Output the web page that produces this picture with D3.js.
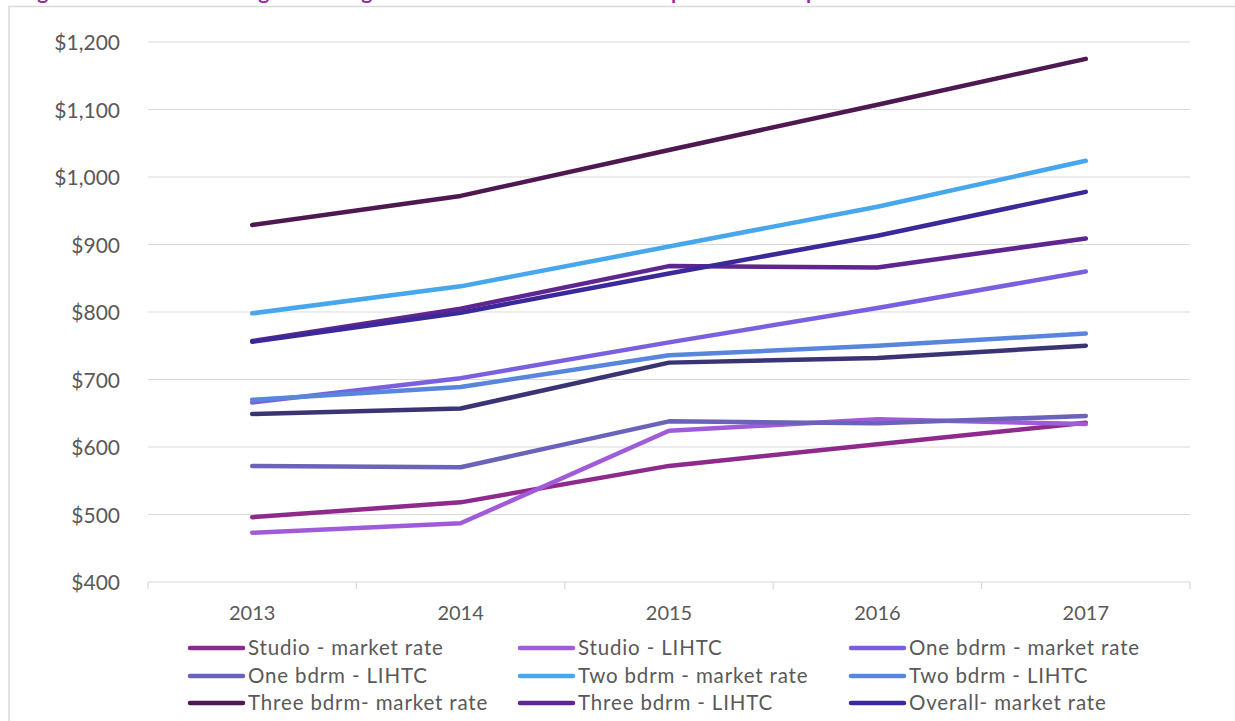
<!DOCTYPE html>
<html>
<head>
<meta charset="utf-8">
<script src="https://cdn.jsdelivr.net/npm/d3@7"></script>
<style>
  html, body { margin: 0; padding: 0; background: #fff; overflow: hidden; }
  svg { display: block; font-family: Lato, "Open Sans", sans-serif; }
</style>
</head>
<body>
<div id="chart"></div>
<script>
// chart data
const years = ["2013", "2014", "2015", "2016", "2017"];
const seriesNames = [
  "Studio - market rate", "Studio - LIHTC", "One bdrm - market rate",
  "One bdrm - LIHTC", "Two bdrm - market rate", "Two bdrm - LIHTC",
  "Three bdrm- market rate", "Three bdrm - LIHTC", "Overall- market rate",
  "Overall - LIHTC"
];
const studioMarket = [496, 518, 572, 604, 636];
const studioLihtc = [473, 487, 624, 641, 634];
const oneMarket = [666, 702, 755, 806, 860];
const oneLihtc = [572, 570, 638, 635, 646];
const twoMarket = [798, 838, 897, 956, 1024];
const twoLihtc = [670, 689, 736, 750, 768];
const threeMarket = [929, 972, 1040, 1107, 1175];
const threeLihtc = [757, 805, 868, 866, 909];
const overallMarket = [756, 799, 857, 913, 978];
const overallLihtc = [649, 657, 725, 732, 750];
const yTicks = [400, 500, 600, 700, 800, 900, 1000, 1100, 1200];

const colors = [
  "#8e2a8c", "#a05cd8", "#7a5fdf", "#6a63b9", "#47a7ec",
  "#5886dc", "#4e1850", "#5f2692", "#3b2899", "#3a3474"
];

function drawChart() {
  const series = [studioMarket, studioLihtc, oneMarket, oneLihtc, twoMarket,
    twoLihtc, threeMarket, threeLihtc, overallMarket, overallLihtc]
    .map((vals, i) => ({ name: seriesNames[i], color: colors[i], values: vals }));

  // dimensions
  const w = 1235;
  const h = 721;
  const left = 148, right = 1190, top = 42, bottom = 582;

  const svg = d3.select("#chart")
    .append("svg")
    .attr("width", w)
    .attr("height", h);

  // chart border (runs off the picture on the right and bottom)
  svg.append("rect")
    .attr("x", 9).attr("y", 6.5)
    .attr("width", 1400).attr("height", 900)
    .attr("fill", "none")
    .attr("stroke", "#d9d9d9")
    .attr("stroke-width", 1.5);

  // title, mostly above the top edge
  svg.append("text")
    .attr("x", 20).attr("y", -1)
    .attr("fill", "#9b2b9c")
    .attr("font-weight", "bold")
    .attr("font-size", 21)
    .text("Figure 31: Five-Year Change in Average Rent: Market Rate vs. LIHTC Apartment Complexes");

  // scales
  const xScale = d3.scaleBand().domain(years).range([left, right]);
  const yScale = d3.scaleLinear().domain([400, 1200]).range([bottom, top]);

  // gridlines
  svg.append("g")
    .selectAll("line")
    .data(yTicks)
    .join("line")
    .attr("x1", left).attr("x2", right)
    .attr("y1", d => yScale(d)).attr("y2", d => yScale(d))
    .attr("stroke", "#d9d9d9")
    .attr("stroke-width", 1.2);

  // Y axis labels
  const yAxis = d3.axisLeft(yScale)
    .tickValues(yTicks)
    .tickSize(0)
    .tickPadding(28)
    .tickFormat(d => "$" + d3.format(",")(d));
  svg.append("g")
    .attr("transform", `translate(${left}, 0)`)
    .call(yAxis)
    .call(g => g.select(".domain").remove())
    .call(g => g.selectAll("text")
      .attr("dy", "0.36em")
      .attr("fill", "#595959")
      .attr("font-size", 21)
      .attr("font-family", "Lato, sans-serif"));

  // X axis: ticks at category boundaries
  const bounds = years.map(y => xScale(y)).concat([right]);
  svg.append("g")
    .selectAll("line")
    .data(bounds)
    .join("line")
    .attr("x1", d => d).attr("x2", d => d)
    .attr("y1", bottom).attr("y2", bottom + 7)
    .attr("stroke", "#d9d9d9")
    .attr("stroke-width", 1.2);
  svg.append("g")
    .selectAll("text")
    .data(years)
    .join("text")
    .attr("x", d => xScale(d) + xScale.bandwidth() / 2)
    .attr("y", 620)
    .attr("text-anchor", "middle")
    .attr("fill", "#595959")
    .attr("font-size", 20)
    .text(d => d);

  // lines
  const line = d3.line()
    .x((d, i) => xScale(years[i]) + xScale.bandwidth() / 2)
    .y(d => yScale(d));
  svg.append("g")
    .selectAll("path")
    .data(series)
    .join("path")
    .attr("d", d => line(d.values))
    .attr("fill", "none")
    .attr("stroke", d => d.color)
    .attr("stroke-width", 4.5)
    .attr("stroke-linejoin", "round")
    .attr("stroke-linecap", "round");

  // legend, 3 columns (fourth row falls below the picture)
  const colX = [190, 520, 851];
  const rowY = [648, 676, 703, 731];
  const legend = svg.append("g")
    .selectAll("g")
    .data(series)
    .join("g")
    .attr("transform", (d, i) => `translate(${colX[i % 3]}, ${rowY[Math.floor(i / 3)]})`);
  legend.append("line")
    .attr("x1", 0).attr("x2", 53)
    .attr("stroke", d => d.color)
    .attr("stroke-width", 4.5)
    .attr("stroke-linecap", "round");
  legend.append("text")
    .attr("x", 58).attr("y", 7)
    .attr("fill", "#595959")
    .attr("font-size", 20.5)
    .attr("letter-spacing", 0.85)
    .text(d => d.name);
}

drawChart();
</script>
</body>
</html>
